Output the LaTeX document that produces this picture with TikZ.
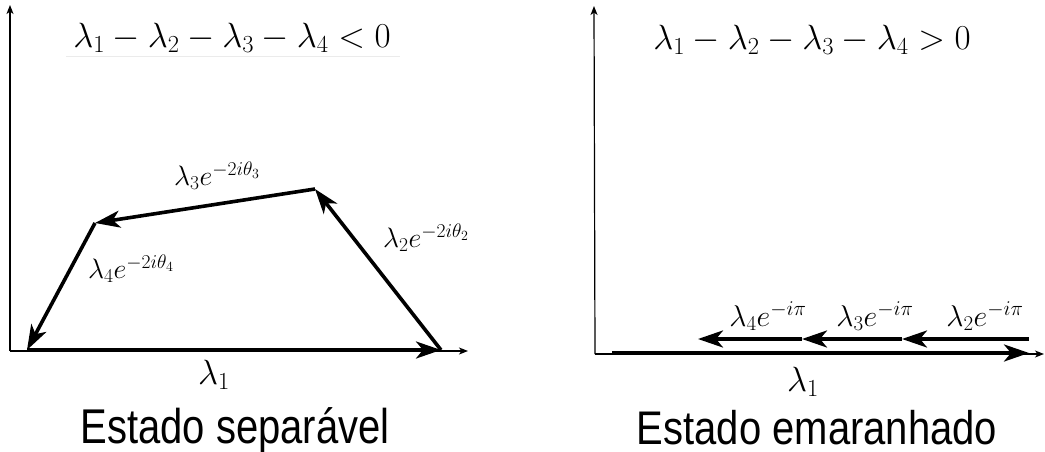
\RequirePackage{fix-cm}
\documentclass[tikz,border=0pt]{standalone}
\usepackage{graphicx}
\usepackage{fontspec}
\setsansfont{Liberation Sans}
\usetikzlibrary{arrows.meta}
\begin{document}
\begin{tikzpicture}[x=1pt,y=-1pt,
  axis/.style={line width=1.2pt,-{Stealth[length=9pt,width=7pt,inset=2.5pt]}},
  vec/.style={line width=3.6pt,-{Stealth[length=25pt,width=17pt,inset=7pt]}},
  lab/.style={font=\fontsize{28}{32}\selectfont, inner sep=0pt},
  labr/.style={font=\fontsize{30}{34}\selectfont, inner sep=0pt},
  formula/.style={font=\fontsize{35}{40}\selectfont, inner sep=0pt},
  caption/.style={font=\sffamily\fontsize{40}{44}\selectfont, inner sep=0pt, anchor=base}]
\useasboundingbox (0,0) rectangle (1045,452);
% ---------- left panel ----------
\coordinate (O1) at (10,351);
\coordinate (X1) at (468,351);
\coordinate (Y1) at (10,5);
\draw[axis] (O1) -- (X1);
\draw[axis] (O1) -- (Y1);
\coordinate (U1) at (66,56);
\coordinate (U2) at (400,56);
\draw[black!8, line width=0.8pt] (U1) -- (U2);
\node[formula] (f1) at (232,38) {$\lambda_1-\lambda_2-\lambda_3-\lambda_4<0$};
\coordinate (A) at (27,350);
\coordinate (B) at (441,350);
\coordinate (C) at (315,189);
\coordinate (D) at (95,223);
\draw[vec] (A) -- (B);
\draw[vec] (B) -- (C);
\draw[vec] (C) -- (D);
\draw[vec] (D) -- (A);
\node[lab] (l3) at (217,176) {$\lambda_3e^{-2i\theta_3}$};
\node[lab] (l2) at (426,238) {$\lambda_2e^{-2i\theta_2}$};
\node[lab] (l4) at (131,269) {$\lambda_4e^{-2i\theta_4}$};
\node[formula] (l1) at (214,375) {$\lambda_1$};
\node[caption] (c1) at (235,443) {\scalebox{1}[1.22]{Estado separável}};
% ---------- right panel ----------
\coordinate (O2) at (595,354);
\coordinate (X2) at (1044,354);
\coordinate (Y2) at (594,6);
\draw[axis] (O2) -- (X2);
\draw[axis] (O2) -- (Y2);
\node[formula] (f2) at (812,40) {$\lambda_1-\lambda_2-\lambda_3-\lambda_4>0$};
\coordinate (E) at (612,353);
\coordinate (F) at (1029,353);
\draw[vec] (E) -- (F);
\coordinate (P0) at (1029,339);
\coordinate (P1) at (902,339);
\coordinate (P2) at (802,339);
\coordinate (P3) at (698,339);
\draw[vec] (P0) -- (P1);
\draw[vec] (P1) -- (P2);
\draw[vec] (P2) -- (P3);
\node[labr] (r4) at (768,316) {$\lambda_4e^{-i\pi}$};
\node[labr] (r3) at (875,316) {$\lambda_3e^{-i\pi}$};
\node[labr] (r2) at (985,316) {$\lambda_2e^{-i\pi}$};
\node[formula] (r1) at (803,382) {$\lambda_1$};
\node[caption] (c2) at (817,444) {\scalebox{1}[1.18]{Estado emaranhado}};
\end{tikzpicture}
\end{document}
